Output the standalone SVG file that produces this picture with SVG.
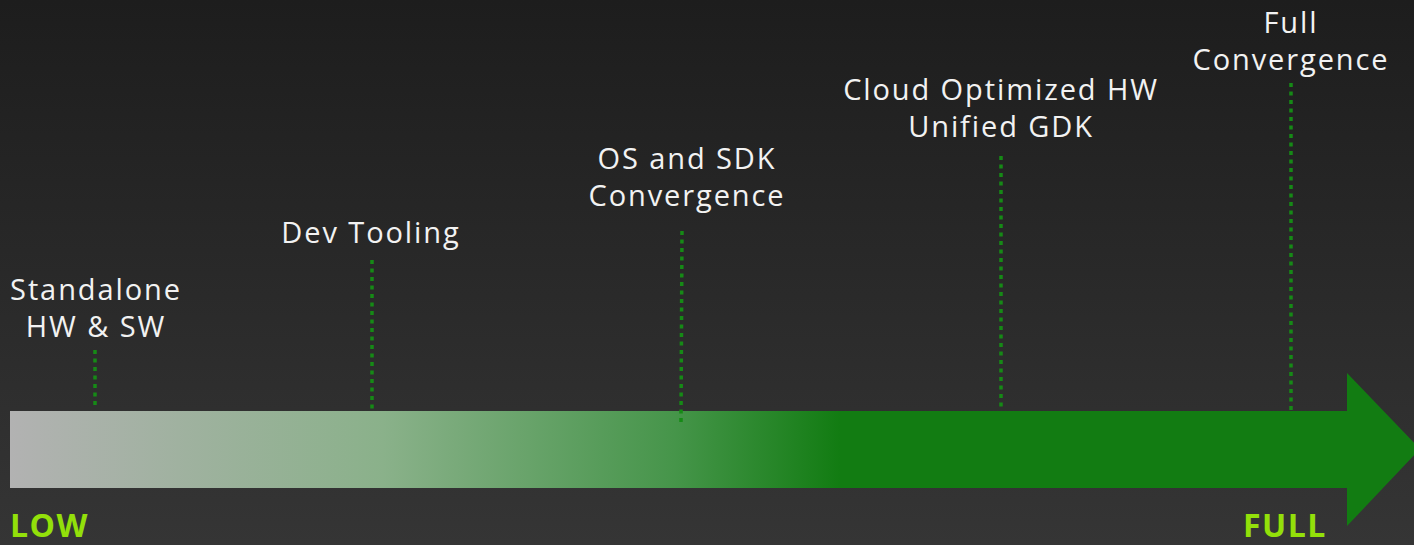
<svg xmlns="http://www.w3.org/2000/svg" width="1414" height="545" viewBox="0 0 1414 545">
<defs>
<linearGradient id="bg" x1="0" y1="0" x2="0" y2="1">
<stop offset="0" stop-color="#1d1d1d"/>
<stop offset="1" stop-color="#353535"/>
</linearGradient>
<linearGradient id="ar" gradientUnits="userSpaceOnUse" x1="10" y1="0" x2="840" y2="0">
<stop offset="0" stop-color="#b2b2b2"/>
<stop offset="0.45" stop-color="#8ab18a"/>
<stop offset="0.8" stop-color="#46954a"/>
<stop offset="1" stop-color="#127c12"/>
</linearGradient>
<style>
.lbl{font-family:"Open Sans","Noto Sans",sans-serif;font-size:29px;fill:#f2f2f2;text-anchor:middle;letter-spacing:1.9px}
.end{font-family:"Open Sans","Noto Sans",sans-serif;font-size:32px;font-weight:bold;fill:#93e00a;letter-spacing:1.5px}
.dot{stroke:#168a16;stroke-width:3.5;stroke-dasharray:4 4.5;fill:none}
</style>
</defs>
<rect width="1414" height="545" fill="url(#bg)"/>
<g id="arrow">
<path d="M10 411 H1347 V373 L1420 449 L1347 526 V488 H10 Z" fill="url(#ar)"/>
</g>
<g id="connectors">
<line class="dot" x1="95" y1="350" x2="95" y2="408"/>
<line class="dot" x1="372" y1="260" x2="372" y2="410"/>
<line class="dot" x1="682" y1="231" x2="681" y2="422"/>
<line class="dot" x1="1001" y1="156" x2="1001" y2="410"/>
<line class="dot" x1="1291" y1="83" x2="1291" y2="410"/>
</g>
<g id="n1"><text class="lbl" x="96" y="300">Standalone</text><text class="lbl" x="96" y="337">HW &amp; SW</text></g>
<g id="n2"><text class="lbl" x="371" y="243">Dev Tooling</text></g>
<g id="n3"><text class="lbl" x="687" y="169">OS and SDK</text><text class="lbl" x="687" y="206">Convergence</text></g>
<g id="n4"><text class="lbl" x="1001" y="100">Cloud Optimized HW</text><text class="lbl" x="1001" y="137">Unified GDK</text></g>
<g id="n5"><text class="lbl" x="1291" y="33">Full</text><text class="lbl" x="1291" y="70">Convergence</text></g>
<g id="low"><text class="end" x="10" y="537">LOW</text></g>
<g id="full"><text class="end" x="1243" y="537">FULL</text></g>
</svg>
